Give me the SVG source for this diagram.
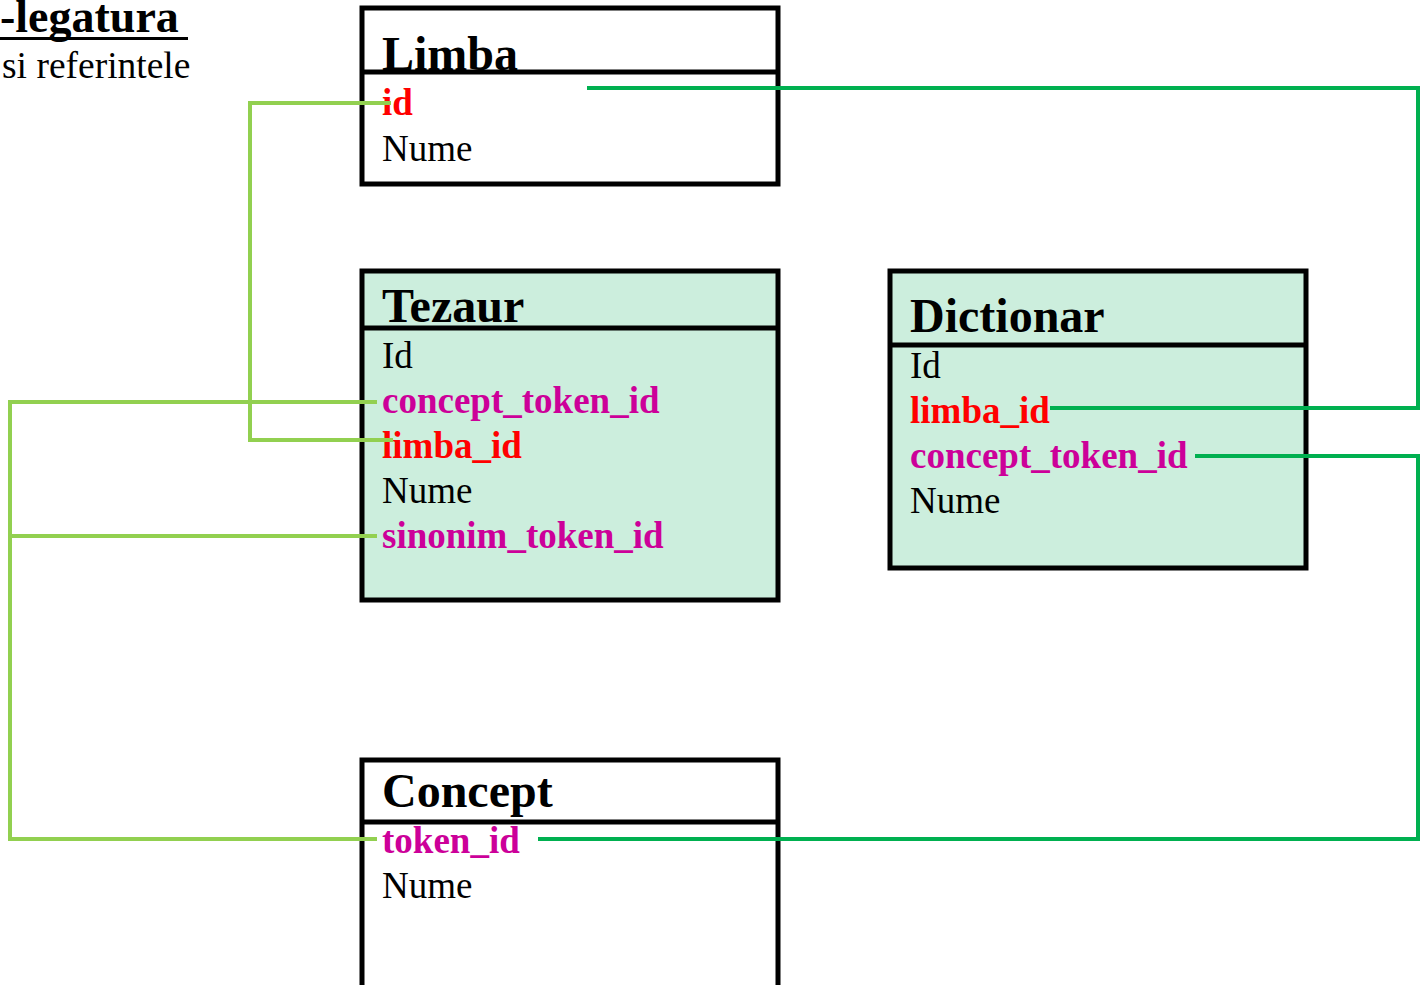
<svg xmlns="http://www.w3.org/2000/svg" width="1421" height="985" viewBox="0 0 1421 985">
<style>
.box{stroke:#000;stroke-width:5;}
.white{fill:#fff;}
.mint{fill:#CCEEDD;}
.div{stroke:#000;stroke-width:5;}
.title{font-family:"Liberation Serif",serif;font-weight:bold;font-size:48px;fill:#000;}
.row{font-family:"Liberation Serif",serif;font-size:37px;fill:#000;}
.red{font-family:"Liberation Serif",serif;font-weight:bold;font-size:37px;fill:#FF0000;}
.mag{font-family:"Liberation Serif",serif;font-weight:bold;font-size:37px;fill:#CC0099;}
.lg{fill:none;stroke:#92D050;stroke-width:4;}
.dg{fill:none;stroke:#00B050;stroke-width:4;}
</style>
<rect width="1421" height="985" fill="#fff"/>
<g id="heading">
<text x="0" y="32" font-family="Liberation Serif, serif" font-weight="bold" font-size="46">-legatura</text>
<rect x="0" y="37" width="188" height="3" fill="#000"/>
<text x="2" y="78" font-family="Liberation Serif, serif" font-size="37.5">si referintele</text>
</g>
<g id="limba">
<rect class="box white" x="362" y="8" width="416" height="176"/>
<line class="div" x1="362" y1="72" x2="778" y2="72"/>
<text class="title" x="382" y="70">Limba</text>
<text class="red" x="382" y="115">id</text>
<text class="row" x="382" y="161">Nume</text>
</g>
<g id="tezaur">
<rect class="box mint" x="362" y="271" width="416" height="329"/>
<line class="div" x1="362" y1="328" x2="778" y2="328"/>
<text class="title" x="382" y="322">Tezaur</text>
<text class="row" x="382" y="368">Id</text>
<text class="mag" x="382" y="413">concept_token_id</text>
<text class="red" x="382" y="458">limba_id</text>
<text class="row" x="382" y="503">Nume</text>
<text class="mag" x="382" y="548">sinonim_token_id</text>
</g>
<g id="dictionar">
<rect class="box mint" x="890" y="271" width="416" height="297"/>
<line class="div" x1="890" y1="345" x2="1306" y2="345"/>
<text class="title" x="910" y="332">Dictionar</text>
<text class="row" x="910" y="378">Id</text>
<text class="red" x="910" y="423">limba_id</text>
<text class="mag" x="910" y="468">concept_token_id</text>
<text class="row" x="910" y="513">Nume</text>
</g>
<g id="concept">
<rect class="box white" x="362" y="760" width="416" height="230"/>
<line class="div" x1="362" y1="822" x2="778" y2="822"/>
<text class="title" x="382" y="807">Concept</text>
<text class="mag" x="382" y="853">token_id</text>
<text class="row" x="382" y="898">Nume</text>
</g>
<g id="connectors">
<polyline class="lg" points="391,103 250,103 250,440 393,440"/>
<polyline class="lg" points="377,402 10,402 10,839 377,839"/>
<polyline class="lg" points="377,536 10,536"/>
<polyline class="dg" points="587,88 1418,88 1418,408 1050,408"/>
<polyline class="dg" points="1195,456 1418,456 1418,839 538,839"/>
</g>
</svg>
